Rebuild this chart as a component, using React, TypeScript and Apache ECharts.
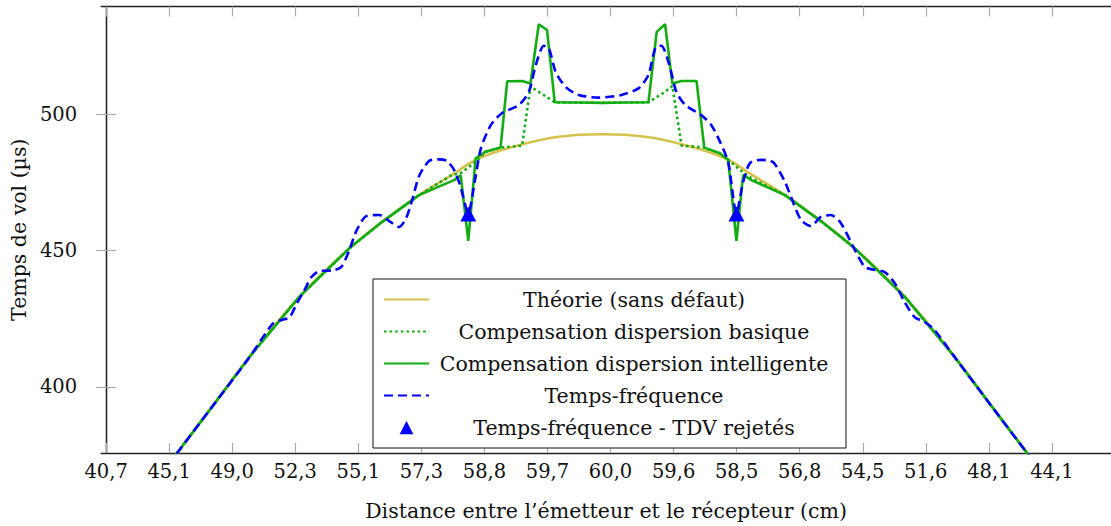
import React, { useEffect, useRef } from "react";
import * as echarts from "echarts";

// x positions are in "tick units": tick k (label X_TICK_LABELS[k]) sits at x = k
const X_TICK_LABELS = ["40,7", "45,1", "49,0", "52,3", "55,1", "57,3", "58,8", "59,7", "60,0", "59,6", "58,5", "56,8", "54,5", "51,6", "48,1", "44,1"];
const X_TICKS = [0, 1, 2, 3, 4, 5, 6, 7, 8, 9, 10, 11, 12, 13, 14, 15];
const Y_TICKS = [400, 450, 500];

const THEORY = [
  [0.854, 367.4], [1.123, 375.7], [1.644, 391.6], [2.277, 411.1], [3.067, 433.1], [3.858, 450.8],
  [4.379, 460.5], [4.964, 470.3], [5.486, 477.7], [5.913, 483.8], [6.545, 488.6], [7.178, 491.7],
  [7.866, 492.6], [8.553, 491.7], [9.186, 488.6], [9.818, 483.8], [10.245, 477.7], [10.767, 470.3],
  [11.352, 460.5], [11.874, 450.8], [12.664, 433.1], [13.455, 411.1], [14.087, 391.6], [14.609, 375.7],
  [14.877, 367.4],
];

const BASIQUE = [
  [0.854, 367.4], [1.123, 375.7], [1.644, 391.6], [2.277, 411.1], [3.067, 433.1], [3.858, 450.8],
  [4.379, 460.5], [4.964, 470.3], [5.486, 477.7], [5.624, 478.3], [5.861, 482.5], [6.019, 486.2],
  [6.256, 487.7], [6.598, 488.4], [6.730, 510.1], [6.862, 508.1], [6.993, 506.2], [7.115, 504.3],
  [7.494, 504.2], [7.866, 504.1], [8.237, 504.2], [8.601, 504.3], [8.732, 506.2], [8.865, 508.1],
  [8.980, 510.3], [9.127, 488.4], [9.364, 488.0], [9.486, 487.7], [9.734, 485.6], [9.866, 483.2],
  [10.103, 478.6], [10.234, 476.5], [10.767, 470.3], [11.352, 460.5], [11.874, 450.8], [12.664, 433.1],
  [13.455, 411.1], [14.087, 391.6], [14.609, 375.7], [14.877, 367.4],
];

const INTELLIGENTE = [
  [0.854, 367.4], [1.123, 375.7], [1.644, 391.6], [2.277, 411.1], [3.067, 433.1], [3.858, 450.8],
  [4.379, 460.5], [4.964, 470.3], [5.518, 475.8], [5.624, 477.5], [5.744, 453.5], [5.861, 483.8],
  [6.019, 486.2], [6.256, 487.7], [6.361, 512.0], [6.598, 512.1], [6.730, 511.2], [6.862, 532.9],
  [6.993, 530.8], [7.115, 504.3], [7.494, 504.2], [7.866, 504.1], [8.237, 504.2], [8.601, 504.3],
  [8.732, 530.1], [8.865, 532.9], [8.980, 511.2], [9.127, 512.1], [9.364, 512.1], [9.486, 487.7],
  [9.734, 485.6], [9.866, 483.2], [9.997, 453.5], [10.103, 477.7], [10.234, 475.8], [10.767, 470.3],
  [11.352, 460.5], [11.874, 450.8], [12.664, 433.1], [13.455, 411.1], [14.087, 391.6], [14.609, 375.7],
  [14.877, 367.4],
];

const TEMPS_FREQUENCE = [
  [0.854, 367.4], [1.123, 375.7], [1.644, 391.6], [2.277, 411.0], [2.640, 423.1], [2.783, 424.5],
  [2.909, 425.5], [3.020, 430.4], [3.146, 435.5], [3.257, 440.3], [3.383, 442.5], [3.589, 442.7],
  [3.731, 444.0], [3.858, 450.2], [3.968, 457.1], [4.126, 462.6], [4.332, 463.0], [4.490, 460.8],
  [4.648, 458.6], [4.759, 461.9], [4.854, 468.5], [4.964, 477.3], [5.122, 482.8], [5.281, 483.4],
  [5.407, 482.8], [5.518, 479.5], [5.613, 474.0], [5.744, 463.7], [5.850, 475.8], [5.945, 487.5],
  [6.103, 496.0], [6.277, 500.3], [6.545, 503.3], [6.704, 508.1], [6.814, 517.9], [6.941, 525.0],
  [7.020, 524.2], [7.130, 515.4], [7.289, 509.9], [7.494, 507.0], [7.810, 506.0], [8.174, 507.0],
  [8.443, 509.4], [8.601, 514.3], [8.711, 524.2], [8.806, 525.0], [8.933, 517.9], [9.044, 508.1],
  [9.186, 503.3], [9.439, 499.6], [9.597, 496.0], [9.739, 489.7], [9.866, 482.4], [9.997, 463.7],
  [10.103, 475.1], [10.213, 482.1], [10.387, 483.2], [10.577, 482.4], [10.767, 475.1], [10.862, 469.6],
  [11.020, 461.2], [11.178, 459.0], [11.336, 462.3], [11.494, 463.0], [11.652, 460.1], [11.874, 450.2],
  [12.032, 444.0], [12.190, 442.9], [12.348, 442.1], [12.506, 438.1], [12.664, 431.1], [12.822, 425.6],
  [12.980, 423.8], [13.138, 420.9], [13.455, 411.0], [14.087, 391.6], [14.609, 375.7], [14.877, 367.4],
];

const TDV_REJETES = [
  [5.744, 463.4],
  [9.997, 463.4],
];

const FONT = "DejaVu Serif";

export default function App() {
  const ref = useRef<HTMLDivElement>(null);

  useEffect(() => {
    if (!ref.current) return;
    const chart = echarts.init(ref.current, null, { renderer: "svg" });
    const xMin = -0.079;
    const xMax = 15.937;
    const yMin = 375.8;
    const yMax = 539.4;
    const axisLine = { show: true, lineStyle: { color: "#222", width: 1.3 } };
    const tick = { show: true, inside: true, length: 10, lineStyle: { color: "#aaa", width: 1.2 } };
    const hiddenSymbol = { opacity: 0 };

    chart.setOption({
      animation: false,
      backgroundColor: "#fff",
      grid: { left: 101, top: 6.5, width: 1013, height: 446.5 },
      xAxis: [
        {
          type: "value",
          min: xMin,
          max: xMax,
          position: "bottom",
          axisLine,
          axisTick: { ...tick, customValues: X_TICKS },
          splitLine: { show: false },
          axisLabel: {
            customValues: X_TICKS,
            formatter: (v: number) => X_TICK_LABELS[Math.round(v)] ?? "",
            color: "#111",
            fontFamily: FONT,
            fontSize: 19.5,
            margin: 8,
          },
          name: "Distance entre l’émetteur et le récepteur (cm)",
          nameLocation: "middle",
          nameGap: 47,
          nameTextStyle: { color: "#111", fontFamily: FONT, fontSize: 20.5 },
        },
        {
          type: "value",
          min: xMin,
          max: xMax,
          position: "top",
          axisLine,
          axisTick: { ...tick, customValues: X_TICKS },
          axisLabel: { show: false, customValues: X_TICKS },
          splitLine: { show: false },
        },
      ],
      yAxis: [
        {
          type: "value",
          min: yMin,
          max: yMax,
          position: "left",
          axisLine,
          axisTick: { ...tick, customValues: Y_TICKS },
          splitLine: { show: false },
          axisLabel: {
            customValues: Y_TICKS,
            color: "#111",
            fontFamily: FONT,
            fontSize: 19.5,
            margin: 24,
          },
          name: "Temps de vol (µs)",
          nameLocation: "middle",
          nameGap: 67,
          nameRotate: 90,
          nameTextStyle: { color: "#111", fontFamily: FONT, fontSize: 20.5 },
        },
        {
          type: "value",
          min: yMin,
          max: yMax,
          position: "right",
          axisLine,
          axisTick: { ...tick, customValues: Y_TICKS },
          axisLabel: { show: false, customValues: Y_TICKS },
          splitLine: { show: false },
        },
      ],
      legend: {
        orient: "vertical",
        left: 373,
        top: 279,
        padding: [8, 12, 8, 10],
        itemWidth: 45,
        itemHeight: 17,
        itemGap: 7,
        backgroundColor: "#fff",
        borderColor: "#111",
        borderWidth: 1,
        borderRadius: 0,
        data: [
          { name: "Théorie (sans défaut)", itemStyle: hiddenSymbol },
          { name: "Compensation dispersion basique", itemStyle: hiddenSymbol },
          { name: "Compensation dispersion intelligente", itemStyle: hiddenSymbol },
          { name: "Temps-fréquence", itemStyle: hiddenSymbol },
          { name: "Temps-fréquence - TDV rejetés", itemStyle: { opacity: 1 } },
        ],
        formatter: "{n|{name}}",
        textStyle: {
          color: "#111",
          fontFamily: FONT,
          fontSize: 20.5,
          lineHeight: 25,
          rich: {
            n: { width: 400, height: 25, align: "center", fontFamily: FONT, fontSize: 20.5, lineHeight: 25, color: "#111" },
          },
        },
      },
      series: [
        {
          name: "Théorie (sans défaut)",
          type: "line",
          data: THEORY,
          symbol: "none",
          smooth: 0.4,
          color: "#d5c24c",
          lineStyle: { color: "#d5c24c", width: 2.6 },
        },
        {
          name: "Compensation dispersion basique",
          type: "line",
          data: BASIQUE,
          symbol: "none",
          color: "#13ad13",
          lineStyle: { color: "#13ad13", width: 2.6, type: [2.6, 3] },
        },
        {
          name: "Compensation dispersion intelligente",
          type: "line",
          data: INTELLIGENTE,
          symbol: "none",
          color: "#13ad13",
          lineStyle: { color: "#13ad13", width: 2.6 },
        },
        {
          name: "Temps-fréquence",
          type: "line",
          data: TEMPS_FREQUENCE,
          symbol: "none",
          smooth: 0.25,
          color: "#0000ff",
          lineStyle: { color: "#0000ff", width: 2.6, type: [9, 5] },
        },
        {
          name: "Temps-fréquence - TDV rejetés",
          type: "line",
          data: TDV_REJETES,
          symbol: "triangle",
          showSymbol: true,
          symbolSize: [16, 15],
          color: "#0000ff",
          itemStyle: { color: "#0000ff", opacity: 1, borderWidth: 0 },
          lineStyle: { width: 0, opacity: 0 },
          z: 5,
        },
      ],
    });

    return () => chart.dispose();
  }, []);

  return (
    <div
      ref={ref}
      style={{ position: "fixed", left: 0, top: 0, width: 1111, height: 526, background: "#fff" }}
    />
  );
}
